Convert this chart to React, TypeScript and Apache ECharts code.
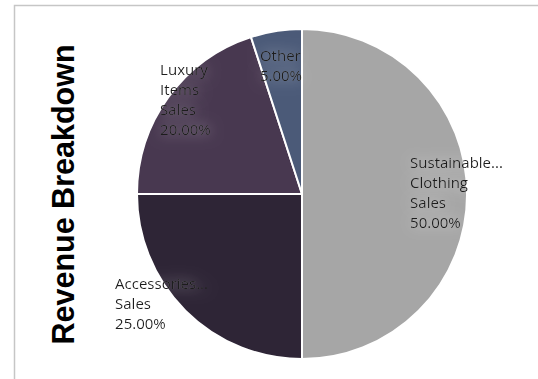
import { useEffect, useRef } from "react";
import * as echarts from "echarts";

const categories = ["Sustainable Clothing Sales", "Accessories Sales", "Luxury Items Sales", "Other"];
const labelNames = ["Sustainable...\nClothing\nSales", "Accessories...\nSales", "Luxury\nItems\nSales", "Other"];
const values = [50, 25, 20, 5];
const colors = ["#a6a6a6", "#2e2536", "#483850", "#4b5a78"];
const titleText = "Revenue Breakdown";

// label anchor (left edge, vertical middle) in units of the pie radius, relative to the pie centre
const labelAnchors = [
  [0.655, -0.01],
  [-1.133, 0.66],
  [-0.86, -0.576],
  [-0.255, -0.78],
];

const CX = 302;
const CY = 194;
const R = 165;

export default function App() {
  const ref = useRef<HTMLDivElement>(null);
  useEffect(() => {
    if (!ref.current) return;
    const chart = echarts.init(ref.current, null, { renderer: "svg" });
    const total = values.reduce((a, b) => a + b, 0);
    chart.setOption({
      animation: false,
      backgroundColor: "#ffffff",
      graphic: [
        {
          type: "rect",
          shape: { x: 14.5, y: 5.5, width: 700, height: 600 },
          style: { fill: "none", stroke: "#c6c6c6", lineWidth: 1.5 },
          silent: true,
        },
        {
          type: "text",
          x: 62.5,
          y: 194.5,
          rotation: Math.PI / 2,
          style: {
            text: titleText,
            font: 'bold 30.5px "Liberation Sans", Arial, sans-serif',
            fill: "#000000",
            align: "center",
            verticalAlign: "middle",
          },
        },
      ],
      series: [
        {
          type: "pie",
          center: [CX, CY],
          radius: R,
          startAngle: 90,
          clockwise: true,
          avoidLabelOverlap: false,
          itemStyle: { borderColor: "#ffffff", borderWidth: 2 },
          label: {
            show: true,
            position: "inside",
            fontFamily: '"Open Sans", "Noto Sans", sans-serif',
            fontSize: 15,
            lineHeight: 20,
            color: "#1c1c1c",
            align: "left",
            textShadowColor: "rgba(255,255,255,0.55)",
            textShadowBlur: 14,
            formatter: (p: any) =>
              labelNames[p.dataIndex] + "\n" + ((values[p.dataIndex] / total) * 100).toFixed(2) + "%",
          },
          labelLine: { show: false },
          labelLayout: (p: any) => {
            const a = labelAnchors[p.dataIndex];
            return { x: CX + a[0] * R, y: CY + a[1] * R, align: "left", verticalAlign: "middle" };
          },
          emphasis: { disabled: true },
          data: categories.map((name, i) => ({
            name,
            value: values[i],
            itemStyle: { color: colors[i] },
          })),
        },
      ],
    });
    return () => chart.dispose();
  }, []);
  return (
    <div
      ref={ref}
      style={{ position: "absolute", left: 0, top: 0, width: 538, height: 379 }}
    />
  );
}
